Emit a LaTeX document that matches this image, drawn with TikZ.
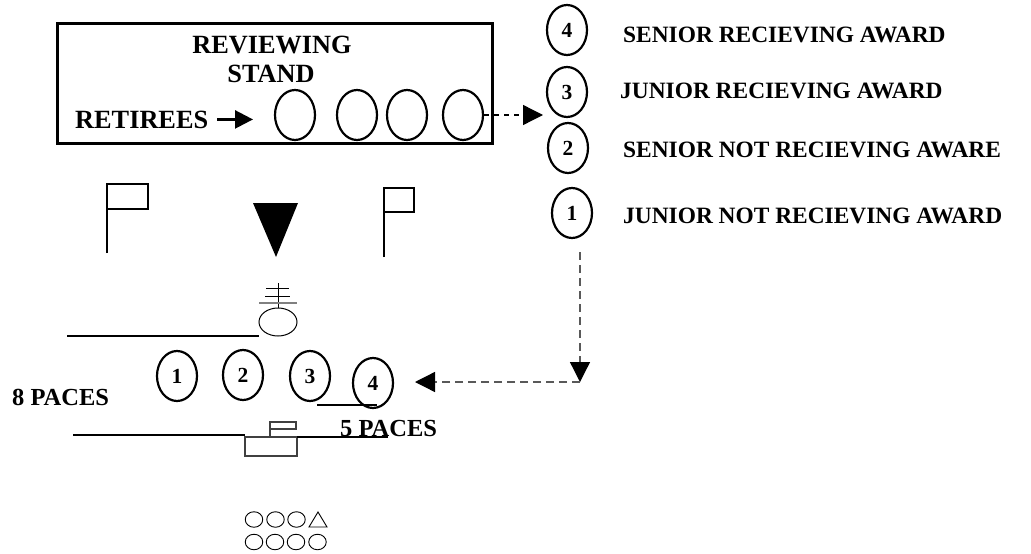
\documentclass[tikz,border=0pt]{standalone}
\usepackage{fontspec}
\setmainfont{Liberation Serif}
\usetikzlibrary{arrows.meta,shapes.geometric}

\begin{document}
\begin{tikzpicture}[x=1pt,y=-1pt,
    oval/.style={draw,ellipse,line width=2.2pt,minimum width=40pt,minimum height=50pt,inner sep=0pt,font=\fontsize{21.5}{22}\selectfont\bfseries},
    boxtext/.style={inner sep=0pt,anchor=base,font=\fontsize{26.3}{26}\selectfont\bfseries},
    keytext/.style={inner sep=0pt,anchor=base west,font=\fontsize{23.4}{24}\selectfont\bfseries},
    pacetext/.style={inner sep=0pt,anchor=base west,font=\fontsize{24.5}{24}\selectfont\bfseries},
    march/.style={draw=gray!70!black,line width=1.3pt,dash pattern=on 8pt off 5pt,-{Triangle[length=20pt,width=20pt,color=black]}},
    thinline/.style={line width=1.5pt},
    squad/.style={draw,ellipse,line width=0.9pt,minimum width=17.5pt,minimum height=15.5pt,inner sep=0pt}]
        \useasboundingbox (0,0) rectangle (1031,554);

        % reviewing stand
        \draw[line width=3pt] (57,23) rectangle (492,143);
        \node[boxtext] (rev) at (272,53) {REVIEWING};
        \node[boxtext] (stnd) at (271,82) {STAND};
        \node[boxtext,anchor=base west] (ret) at (75,128) {RETIREES};
        \coordinate (retip) at (253,120);
        \foreach \i/\x in {1/295,2/357,3/407,4/463}
            \node[oval] (st\i) at (\x,115) {};
        \draw[line width=2.5pt,shorten <=9pt,-{Triangle[length=18pt,width=18pt]}] (ret.east) -- (ret.east -| retip);
        \coordinate (keytip) at (543,118);
        \draw[line width=1.3pt,dash pattern=on 5pt off 5pt,-{Triangle[length=20pt,width=20pt]}] (st4.east) -- (st4.east -| keytip);

        % legend
        \foreach \i/\x/\y in {4/567/30,3/567/92,2/568/148,1/572/213}
            \node[oval] (key\i) at (\x,\y) {\i};
        \node[keytext] (lab4) at (623,42) {SENIOR RECIEVING AWARD};
        \node[keytext] (lab3) at (620,98) {JUNIOR RECIEVING AWARD};
        \node[keytext] (lab2) at (623,157) {SENIOR NOT RECIEVING AWARE};
        \node[keytext] (lab1) at (623,223) {JUNIOR NOT RECIEVING AWARD};

        % flags and guidon
        \draw[thinline] (107,253) -- (107,184) -- (148,184) -- (148,209) -- (107,209);
        \draw[thinline] (384,257) -- (384,188) -- (414,188) -- (414,212) -- (384,212);
        \fill (253,203) -- (298,203) -- (276,257) -- cycle;

        % commander
        \node[draw,ellipse,line width=1pt,minimum width=38pt,minimum height=28pt,inner sep=0pt] (cmdr) at (278,322) {};
        \draw[line width=1pt] (278,283) -- (cmdr.north);
        \draw[line width=1pt] (266,288) -- (289,288);
        \draw[line width=1pt] (265,296) -- (290,296);
        \draw[line width=1.5pt,gray] (259,303) -- (297,303);
        \draw[thinline] (67,336) -- (259,336);

        % award recipients
        \foreach \i/\x/\y in {1/177/376,2/243/375,3/310/376,4/373/383}
            \node[oval] (rk\i) at (\x,\y) {\i};
        \draw[thinline] (317,405) -- (377,405);
        \node[pacetext] (eight) at (12,405) {8 PACES};
        \node[pacetext] (five) at (340,436) {5 PACES};

        % adjutant
        \draw[thinline] (73,435) -- (245,435);
        \draw[line width=1.2pt,gray!50!black] (245,437) rectangle (297,456);
        \draw[line width=1.2pt,gray!50!black] (270,437) -- (270,429);
        \draw[line width=1.2pt,gray!50!black] (270,422) rectangle (296,429);
        \draw[thinline] (297,437) -- (388,437);

        % route to the recipients
        \coordinate (lineup) at (580,252);
        \coordinate (corner) at (580,382);
        \coordinate (rktip) at (415,382);
        \draw[march] (lineup) -- (corner);
        \draw[march] (corner) -- (rktip);

        % formation
        \foreach \i/\x in {1/254,2/275.5,3/296.5}
            \node[squad] (sqa\i) at (\x,519.5) {};
        \draw[line width=0.9pt] (309,527) -- (327,527) -- (318,512) -- cycle;
        \foreach \i/\x in {1/254,2/275,3/296,4/317.5}
            \node[squad] (sqb\i) at (\x,542) {};
    \end{tikzpicture}
\end{document}
